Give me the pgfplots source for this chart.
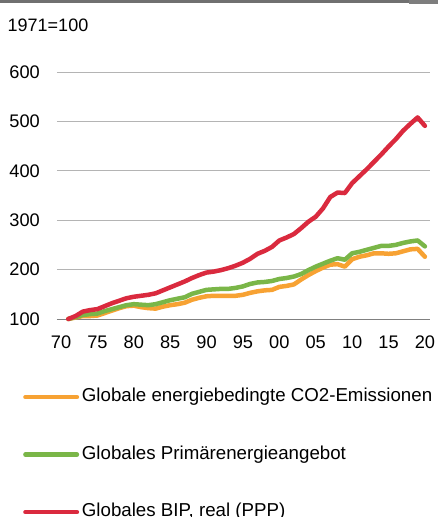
\documentclass[border=0pt]{standalone}
\usepackage{fontspec}
\setmainfont{Liberation Sans}
\usepackage{pgfplots}
\pgfplotsset{compat=1.18}

\definecolor{co2}{HTML}{F7A233}
\definecolor{tpes}{HTML}{7AB648}
\definecolor{gdp}{HTML}{DA2A3E}
\definecolor{gridc}{HTML}{B4B4B4}
\definecolor{rulec}{HTML}{707070}

\begin{document}
\fontsize{18}{21}\selectfont
\begin{tikzpicture}[x=1pt,y=1pt]
\path[use as bounding box] (0,0) rectangle (438,517);
% top rule of the frame
\fill[rulec] (0,514) rectangle (409,517);
\fill[rulec!90] (409,513) rectangle (438,517);
\node[anchor=base west, inner sep=0pt] at (7.5,485.3) {1971=100};

\begin{axis}[
  at={(57pt,198pt)}, anchor=south west,
  scale only axis, width=373pt, height=247pt,
  xmin=1969.45, xmax=2020.7,
  ymin=100, ymax=600,
  axis x line*=bottom, axis y line*=left,
  x axis line style={draw=gray, line width=1pt, -},
  y axis line style={draw=none},
  xtick={1970,1975,...,2020},
  xticklabels={70,75,80,85,90,95,00,05,10,15,20},
  ytick={100,200,...,600},
  major tick length=0pt,
  ymajorgrids, grid style={gridc, line width=0.9pt},
  tick label style={font=\fontsize{18.2}{21}\selectfont},
  /pgf/number format/assume math mode=true,
  yticklabel style={anchor=east, inner sep=0pt, xshift=-17pt},
  xticklabel style={anchor=north, inner sep=0pt, yshift=-16.3pt},
  clip=false,
  legend style={at={(axis description cs:-0.0912,-0.279)}, anchor=north west,
                draw=none, fill=none, inner sep=0pt, row sep=39.5pt,
                font=\fontsize{18.7}{21}\selectfont,
                nodes={inner sep=0pt, text height=13.5pt, text depth=4.5pt}},
  legend cell align=left,
  legend image code/.code={
    \draw[line width=4.5pt, line cap=round] (2.25pt,0pt) -- (53.75pt,0pt);
    \path (56.5pt,0pt);},
  every axis plot/.append style={line width=4.5pt, line join=round, line cap=round},
]
\addplot[co2] coordinates {
(1971,100)(1972,103)(1973,106)(1974,106)(1975,107)(1976,112)(1977,117)(1978,122)
(1979,126)(1980,127)(1981,124)(1982,122)(1983,121)(1984,125)(1985,128)(1986,130)
(1987,133)(1988,139)(1989,143)(1990,146)(1991,147)(1992,147)(1993,147)(1994,147)
(1995,149)(1996,153)(1997,156)(1998,158)(1999,159)(2000,165)(2001,167)(2002,170)
(2003,180)(2004,189)(2005,197)(2006,204)(2007,210)(2008,211)(2009,206)(2010,221)
(2011,226)(2012,229)(2013,233)(2014,233)(2015,232)(2016,233)(2017,237)(2018,241)
(2019,242)(2020,226)
}; \addlegendentry{Globale energiebedingte CO2-Emissionen}
\addplot[tpes] coordinates {
(1971,100)(1972,104)(1973,108)(1974,110)(1975,111)(1976,116)(1977,120)(1978,124)
(1979,128)(1980,130)(1981,129)(1982,128)(1983,130)(1984,134)(1985,138)(1986,141)
(1987,144)(1988,151)(1989,155)(1990,159)(1991,160)(1992,161)(1993,161)(1994,163)
(1995,166)(1996,171)(1997,174)(1998,175)(1999,177)(2000,181)(2001,183)(2002,186)
(2003,191)(2004,199)(2005,206)(2006,212)(2007,218)(2008,223)(2009,220)(2010,233)
(2011,236)(2012,240)(2013,244)(2014,248)(2015,248)(2016,250)(2017,254)(2018,257)
(2019,259)(2020,247)
}; \addlegendentry{Globales Primärenergieangebot}
\addplot[gdp] coordinates {
(1971,100)(1972,106)(1973,115)(1974,118)(1975,120)(1976,126)(1977,132)(1978,137)
(1979,142)(1980,145)(1981,147)(1982,149)(1983,152)(1984,158)(1985,164)(1986,170)
(1987,176)(1988,183)(1989,189)(1990,194)(1991,196)(1992,199)(1993,203)(1994,208)
(1995,214)(1996,222)(1997,232)(1998,238)(1999,246)(2000,259)(2001,265)(2002,272)
(2003,284)(2004,297)(2005,307)(2006,324)(2007,347)(2008,356)(2009,355)(2010,375)
(2011,389)(2012,403)(2013,418)(2014,433)(2015,449)(2016,464)(2017,481)(2018,495)
(2019,508)(2020,491)
}; \addlegendentry{Globales BIP, real (PPP)}
\end{axis}
\end{tikzpicture}
\end{document}
